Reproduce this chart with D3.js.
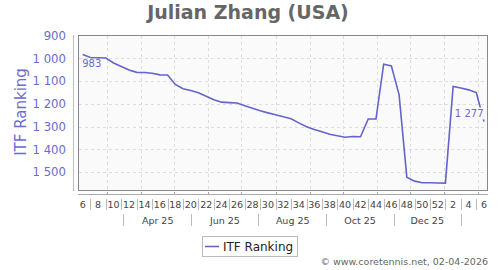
<!DOCTYPE html>
<html>
<head>
<meta charset="utf-8">
<script src="https://d3js.org/d3.v7.min.js"></script>
<style>
  body { margin: 0; background: #fff; }
  svg { display: block; font-family: "DejaVu Sans", sans-serif; }
</style>
</head>
<body>
<div id="my_dataviz"></div>
<script>
// week numbers (week 6 of 2025 to week 6 of 2026)
var weeks = [6, 7, 8, 9, 10, 11, 12, 13, 14, 15, 16, 17, 18, 19, 20, 21, 22, 23, 24, 25, 26,
             27, 28, 29, 30, 31, 32, 33, 34, 35, 36, 37, 38, 39, 40, 41, 42, 43, 44, 45, 46,
             47, 48, 49, 50, 51, 52, 1, 2, 3, 4, 5, 6];
// ITF ranking per week
var ranking = [983, 996, 997, 998, 1020, 1035, 1051, 1061, 1062, 1065, 1072, 1073, 1114, 1133,
               1141, 1151, 1166, 1181, 1192, 1194, 1196, 1208, 1219, 1230, 1239, 1247, 1256,
               1265, 1283, 1300, 1312, 1322, 1333, 1340, 1346, 1343, 1344, 1266, 1266, 1025,
               1033, 1160, 1522, 1539, 1546, 1546, 1547, 1548, 1123, 1130, 1138, 1150, 1277];
var yTicks = [900, 1000, 1100, 1200, 1300, 1400, 1500];
var monthLabels = ["Apr 25", "Jun 25", "Aug 25", "Oct 25", "Dec 25"];
var firstDate = new Date(2025, 1, 7);

var purple = "#6b6bd0";
var W = 500, H = 270;
var plot = {left: 78, right: 487, top: 35, bottom: 190};

var svg = d3.select("#my_dataviz")
    .append("svg")
        .attr("width", W)
        .attr("height", H);

var data = weeks.map(function(w, i) {
    return {week: w, date: d3.timeWeek.offset(firstDate, i), rank: ranking[i]};
});

// Set the ranges
var x = d3.scaleTime()
    .domain(d3.extent(data, function(d) { return d.date; }))
    .range([82.7, 484]);
var y = d3.scaleLinear()
    .domain([900, 1578])
    .range([35.7, plot.bottom]);

var fmt = d3.formatLocale({decimal: ".", thousands: " ", grouping: [3], currency: ["", ""]}).format(",d");

// title
svg.append("text")
    .attr("x", 248)
    .attr("y", 19)
    .attr("text-anchor", "middle")
    .style("font-size", "19px")
    .style("font-weight", "bold")
    .style("fill", "#666")
    .text("Julian Zhang (USA)");

// plot background
svg.append("rect")
    .attr("x", plot.left + 0.5)
    .attr("y", plot.top + 0.5)
    .attr("width", plot.right - plot.left)
    .attr("height", plot.bottom - plot.top)
    .style("fill", "#fafafa")
    .style("stroke", "#888");

// horizontal grid
svg.append("g")
    .selectAll("line")
    .data(yTicks.slice(1))
    .join("line")
        .attr("x1", plot.left + 1)
        .attr("x2", plot.right)
        .attr("y1", function(d) { return Math.round(y(d)) + 0.5; })
        .attr("y2", function(d) { return Math.round(y(d)) + 0.5; })
        .style("stroke", "#ddd")
        .style("stroke-dasharray", "3,3");

// vertical grid on month starts
var monthStarts = d3.timeMonth.range(d3.timeMonth.ceil(x.domain()[0]), x.domain()[1]);
svg.append("g")
    .selectAll("line")
    .data(monthStarts)
    .join("line")
        .attr("x1", function(d) { return Math.round(x(d)) + 0.5; })
        .attr("x2", function(d) { return Math.round(x(d)) + 0.5; })
        .attr("y1", plot.top + 1)
        .attr("y2", plot.bottom)
        .style("stroke", "#ddd")
        .style("stroke-dasharray", "3,3");

// Y axis
svg.append("line")
    .attr("x1", 73.5).attr("x2", 73.5)
    .attr("y1", plot.top).attr("y2", plot.bottom + 1)
    .style("stroke", "#b8b8e4");

svg.append("g")
    .selectAll("text")
    .data(yTicks)
    .join("text")
        .attr("x", 66)
        .attr("y", function(d) { return y(d); })
        .attr("dy", "0.36em")
        .attr("text-anchor", "end")
        .style("font-size", "11.7px")
        .style("fill", purple)
        .text(function(d) { return fmt(d); });

svg.append("text")
    .attr("transform", "translate(26," + 112 + ") rotate(-90)")
    .attr("text-anchor", "middle")
    .style("font-size", "15px")
    .style("fill", purple)
    .text("ITF Ranking");

// X axis
svg.append("line")
    .attr("x1", plot.left).attr("x2", plot.right + 1)
    .attr("y1", 194.5).attr("y2", 194.5)
    .style("stroke", "#aaa");

svg.append("g")
    .selectAll("line")
    .data(monthStarts)
    .join("line")
        .attr("x1", function(d) { return Math.round(x(d)) + 0.5; })
        .attr("x2", function(d) { return Math.round(x(d)) + 0.5; })
        .attr("y1", 192)
        .attr("y2", 194)
        .style("stroke", "#aaa");

// week labels on even weeks, separators on odd weeks
svg.append("g")
    .selectAll("text")
    .data(data.filter(function(d) { return d.week % 2 === 0; }))
    .join("text")
        .attr("x", function(d) { return x(d.date); })
        .attr("y", 208)
        .attr("text-anchor", "middle")
        .style("font-size", "9.5px")
        .style("fill", "#444")
        .text(function(d) { return d.week; });

svg.append("g")
    .selectAll("line")
    .data(data.filter(function(d) { return d.week % 2 === 1; }))
    .join("line")
        .attr("x1", function(d) { return Math.round(x(d.date)) + 0.5; })
        .attr("x2", function(d) { return Math.round(x(d.date)) + 0.5; })
        .attr("y1", 199)
        .attr("y2", 210)
        .style("stroke", "#bbb");

// month labels, every second month
var monthDates = monthLabels.map(function(m) { return d3.timeParse("%b %y")(m); });
svg.append("g")
    .selectAll("text")
    .data(monthDates)
    .join("text")
        .attr("x", function(d) { return (x(d) + x(d3.timeMonth.offset(d, 1))) / 2; })
        .attr("y", 224)
        .attr("text-anchor", "middle")
        .style("font-size", "9.5px")
        .style("fill", "#444")
        .text(function(d, i) { return monthLabels[i]; });

var seps = monthDates.map(function(d) { return d3.timeDay.offset(d3.timeMonth.offset(d, -1), 15); });
seps.push(d3.timeDay.offset(d3.timeMonth.offset(monthDates[monthDates.length - 1], 1), 15));
svg.append("g")
    .selectAll("line")
    .data(seps)
    .join("line")
        .attr("x1", function(d) { return Math.round(x(d)) + 0.5; })
        .attr("x2", function(d) { return Math.round(x(d)) + 0.5; })
        .attr("y1", 214)
        .attr("y2", 226)
        .style("stroke", "#bbb");

// the ranking line
var line = d3.line()
    .x(function(d) { return x(d.date); })
    .y(function(d) { return y(d.rank); });

svg.append("path")
    .datum(data)
    .attr("d", line)
    .attr("fill", "none")
    .style("stroke", "#6464cc")
    .attr("stroke-width", 1.6);

// first and last value labels
var first = data[0], last = data[data.length - 1];
svg.append("text")
    .attr("x", x(first.date) - 0.5)
    .attr("y", y(first.rank) + 12.5)
    .style("font-size", "10px")
    .style("fill", purple)
    .text(fmt(first.rank));

svg.append("rect")
    .attr("x", x(last.date) - 26)
    .attr("y", y(last.rank) - 14)
    .attr("width", 26)
    .attr("height", 12)
    .style("fill", "#fafafa");
svg.append("text")
    .attr("x", x(last.date) - 0.5)
    .attr("y", y(last.rank) - 4)
    .attr("text-anchor", "end")
    .style("font-size", "10px")
    .style("fill", purple)
    .text(fmt(last.rank));

// legend
svg.append("rect")
    .attr("x", 202.5).attr("y", 236.5)
    .attr("width", 95).attr("height", 20)
    .style("fill", "#fff")
    .style("stroke", "#bbb");
svg.append("line")
    .attr("x1", 205).attr("x2", 219)
    .attr("y1", 246.5).attr("y2", 246.5)
    .style("stroke", "#6464cc")
    .attr("stroke-width", 1.6);
svg.append("text")
    .attr("x", 223)
    .attr("y", 251)
    .style("font-size", "12px")
    .style("fill", "#222")
    .text("ITF Ranking");

// copyright
svg.append("text")
    .attr("x", 488)
    .attr("y", 265)
    .attr("text-anchor", "end")
    .style("font-size", "9.5px")
    .style("fill", "#666")
    .text("\u00a9 www.coretennis.net, 02-04-2026");
</script>
</body>
</html>
